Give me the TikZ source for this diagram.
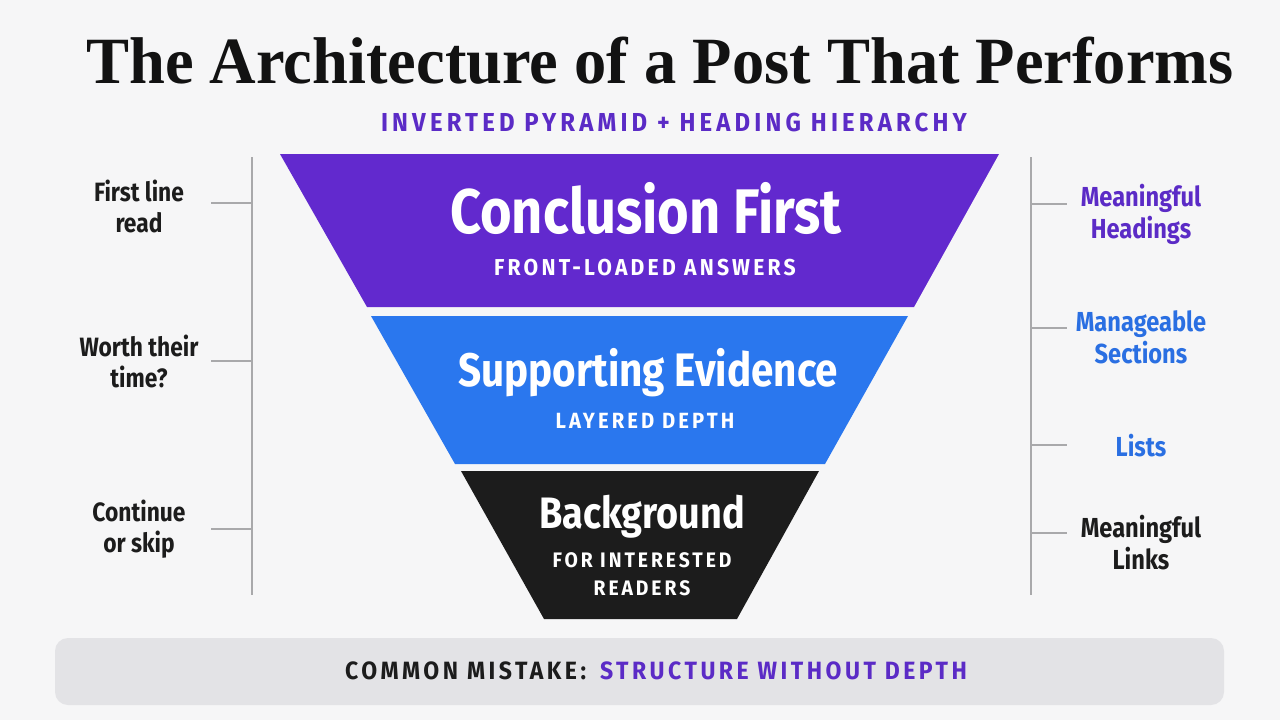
\documentclass[tikz,border=0pt]{standalone}
\usepackage{fontspec}
\usepackage{graphicx}
\setmainfont{Fira Sans}[FakeStretch=0.86]
\newfontfamily\capsfont{Fira Sans}[FakeStretch=0.92,LetterSpace=14]
\newfontfamily\subtfont{Fira Sans}[FakeStretch=0.92,LetterSpace=16]
\newfontfamily\titlefont{Liberation Serif}
\definecolor{bg}{HTML}{F6F6F7}
\definecolor{purp}{HTML}{6229CE}
\definecolor{purptext}{HTML}{5B2BC6}
\definecolor{blu}{HTML}{2A77EE}
\definecolor{blutext}{HTML}{2A6FE2}
\definecolor{blk}{HTML}{1C1C1C}
\definecolor{titleblk}{HTML}{121212}
\definecolor{gline}{HTML}{A9A9AB}
\definecolor{barfill}{HTML}{E3E3E6}
\tikzset{
  lab/.style={font=\fontsize{26.5}{31}\selectfont\bfseries, align=center, anchor=base, inner sep=0pt},
  big/.style={text=white, anchor=base, inner sep=0pt},
  sub/.style={text=white, anchor=base, inner sep=0pt, align=center},
  guide/.style={draw=gline, line width=2pt},
}
\begin{document}
\begin{tikzpicture}[x=1pt,y=-1pt]
\fill[bg] (0,0) rectangle (1280,720);
\useasboundingbox (0,0) rectangle (1280,720);

% title
\node[anchor=base, inner sep=0pt, text=titleblk] (title) at (660,83)
  {\resizebox{1147pt}{46.5pt}{\titlefont\bfseries The Architecture of a Post That Performs}};
\node[anchor=base, inner sep=0pt, text=purptext] (subtitle) at (674,131)
  {\subtfont\fontsize{26}{26}\selectfont\bfseries INVERTED PYRAMID + HEADING HIERARCHY};

% pyramid
\fill[purp] (280,154) -- (999,154) -- (914,307) -- (367,307) -- cycle;
\fill[blu] (371,316) -- (908,316) -- (825,464) -- (455,464) -- cycle;
\fill[blk] (461,471) -- (819,471) -- (737,619) -- (544,619) -- cycle;

\node[big, font=\fontsize{63}{63}\selectfont\bfseries] (t1) at (646,233) {Conclusion First};
\node[sub, font=\capsfont\fontsize{23}{23}\selectfont\bfseries] (s1) at (645,275) {FRONT-LOADED ANSWERS};
\node[big, font=\fontsize{47}{47}\selectfont\bfseries] (t2) at (648,386) {Supporting Evidence};
\node[sub, font=\capsfont\fontsize{22}{22}\selectfont\bfseries] (s2) at (645,428) {LAYERED DEPTH};
\node[big, font=\fontsize{44}{44}\selectfont\bfseries] (t3) at (642,528) {Background};
\node[sub, font=\capsfont\fontsize{21}{28}\selectfont\bfseries] (s3) at (642,595) {FOR INTERESTED\\READERS};

% left guide
\coordinate (lt) at (252,157);
\coordinate (lb) at (252,595);
\draw[guide] (lt) -- (lb);
\coordinate (l1) at (252,203); \coordinate (l1e) at (211,203);
\coordinate (l2) at (252,361); \coordinate (l2e) at (211,361);
\coordinate (l3) at (252,529); \coordinate (l3e) at (211,529);
\draw[guide] (l1) -- (l1e);
\draw[guide] (l2) -- (l2e);
\draw[guide] (l3) -- (l3e);
\node[lab, text=blk] (a1) at (139,232) {First line\\read};
\node[lab, text=blk] (a2) at (139,387) {Worth their\\time?};
\node[lab, text=blk] (a3) at (139,552) {Continue\\or skip};

% right guide
\coordinate (rt) at (1031,157);
\coordinate (rb) at (1031,595);
\draw[guide] (rt) -- (rb);
\coordinate (r1) at (1031,204); \coordinate (r1e) at (1067,204);
\coordinate (r2) at (1031,328); \coordinate (r2e) at (1067,328);
\coordinate (r3) at (1031,445); \coordinate (r3e) at (1067,445);
\coordinate (r4) at (1031,533); \coordinate (r4e) at (1067,533);
\draw[guide] (r1) -- (r1e);
\draw[guide] (r2) -- (r2e);
\draw[guide] (r3) -- (r3e);
\draw[guide] (r4) -- (r4e);
\node[lab, font=\fontsize{27.5}{32}\selectfont\bfseries, text=purptext] (b1) at (1141,238) {Meaningful\\Headings};
\node[lab, font=\fontsize{27.5}{32}\selectfont\bfseries, text=blutext] (b2) at (1141,363) {Manageable\\Sections};
\node[lab, font=\fontsize{27.5}{32}\selectfont\bfseries, text=blutext] (b3) at (1141,456) {Lists};
\node[lab, font=\fontsize{27.5}{32}\selectfont\bfseries, text=blk] (b4) at (1141,569) {Meaningful\\Links};

% bottom bar
\fill[barfill, rounded corners=13pt] (55,638) rectangle (1224,705);
\node[anchor=base, inner sep=0pt] (mistake) at (656,679)
  {\capsfont\fontsize{25}{25}\selectfont\bfseries\textcolor{blk}{COMMON MISTAKE:}\hspace{14pt}\textcolor{purptext}{STRUCTURE WITHOUT DEPTH}};
\end{tikzpicture}
\end{document}
